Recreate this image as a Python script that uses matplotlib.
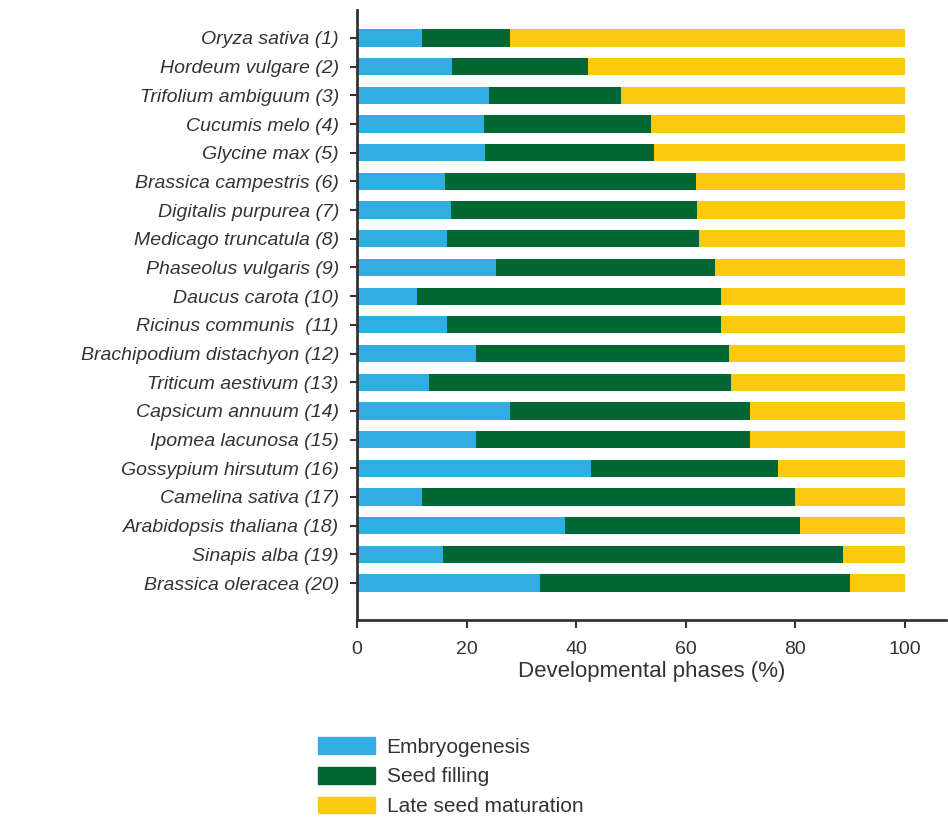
import matplotlib
matplotlib.use("Agg")
import matplotlib.pyplot as plt
from matplotlib.patches import Patch

plt.rcParams["font.family"] = ["Liberation Sans", "DejaVu Sans"]
plt.rcParams["text.color"] = "#333333"
plt.rcParams["xtick.labelcolor"] = "#333333"
plt.rcParams["ytick.labelcolor"] = "#333333"
plt.rcParams["axes.labelcolor"] = "#333333"

# species labels, top to bottom
species = [
    "Oryza sativa (1)", "Hordeum vulgare (2)", "Trifolium ambiguum (3)",
    "Cucumis melo (4)", "Glycine max (5)", "Brassica campestris (6)",
    "Digitalis purpurea (7)", "Medicago truncatula (8)", "Phaseolus vulgaris (9)",
    "Daucus carota (10)", "Ricinus communis  (11)", "Brachipodium distachyon (12)",
    "Triticum aestivum (13)", "Capsicum annuum (14)", "Ipomea lacunosa (15)",
    "Gossypium hirsutum (16)", "Camelina sativa (17)", "Arabidopsis thaliana (18)",
    "Sinapis alba (19)", "Brassica oleracea (20)",
]

# % of development spent in each phase
embryogenesis = [11.8, 17.4, 24.1, 23.1, 23.3, 16.1, 17.2, 16.4, 25.4, 11.0,
                 16.4, 21.8, 13.1, 28.0, 21.8, 42.8, 11.8, 38.0, 15.7, 33.4]
seed_filling_end = [28.0, 42.2, 48.2, 53.7, 54.2, 61.9, 62.1, 62.4, 65.4, 66.4,
                    66.4, 68.0, 68.3, 71.8, 71.8, 76.9, 80.0, 80.8, 88.7, 90.0]
seed_filling = [e - b for e, b in zip(seed_filling_end, embryogenesis)]
late_maturation = [100 - e for e in seed_filling_end]

c_emb = "#30AEE3"
c_fill = "#006633"
c_late = "#FBC90D"

fig = plt.figure(figsize=(9.48, 8.18), dpi=100)
ax = fig.add_axes([0.3766, 0.242, 0.621, 0.746])

y = list(range(len(species)))
h = 0.6
ax.barh(y, embryogenesis, height=h, color=c_emb, label="Embryogenesis")
ax.barh(y, seed_filling, left=embryogenesis, height=h, color=c_fill, label="Seed filling")
ax.barh(y, late_maturation, left=seed_filling_end, height=h, color=c_late,
        label="Late seed maturation")

ax.set_ylim(len(species) - 1 + 1.29, -0.98)
ax.set_xlim(0, 107.5)
ax.set_xticks([0, 20, 40, 60, 80, 100])
ax.set_yticks(y)
ax.set_yticklabels(species, fontstyle="italic", fontsize=14)
ax.tick_params(axis="x", labelsize=14, length=6, width=1.5, color="#333333", pad=9)
ax.tick_params(axis="y", length=5, width=1.5, color="#333333", pad=8)
ax.set_xlabel("Developmental phases (%)", fontsize=16, labelpad=2)

for s in ["top", "right"]:
    ax.spines[s].set_visible(False)
for s in ["left", "bottom"]:
    ax.spines[s].set_linewidth(2)
    ax.spines[s].set_color("#333333")

handles = [Patch(color=c_emb), Patch(color=c_fill), Patch(color=c_late)]
fig.legend(handles, ["Embryogenesis", "Seed filling", "Late seed maturation"],
           loc="upper left", bbox_to_anchor=(318 / 948, 1 - 737 / 818),
           frameon=False, fontsize=15, handlelength=2.75, handleheight=0.85,
           labelspacing=0.5, handletextpad=0.55, borderpad=0, borderaxespad=0)

fig.savefig("out.png", dpi=100)
